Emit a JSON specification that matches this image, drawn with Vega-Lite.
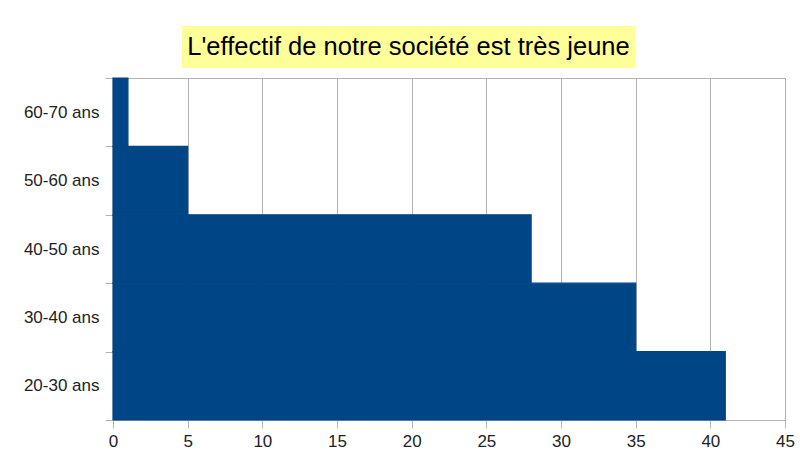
{
  "$schema": "https://vega.github.io/schema/vega-lite/v6.json",
  "padding": {"left": 22, "top": 26, "right": 5, "bottom": 0},
  "background": "white",
  "config": {"view": {"stroke": null}, "font": "Liberation Sans"},
  "spacing": 0,
  "vconcat": [
    {
      "spacing": 10,
      "hconcat": [
        {
          "width": 59,
          "height": 42,
          "data": {"values": []},
          "mark": {"type": "text"},
          "encoding": {}
        },
        {
          "width": 453,
          "height": 42,
          "view": {"fill": "#ffff99", "stroke": null},
          "data": {"values": [{"t": "L'effectif de notre société est très jeune"}]},
          "mark": {"type": "text", "fontSize": 25.5, "color": "#000000", "font": "Liberation Sans", "baseline": "middle", "align": "center"},
          "encoding": {"text": {"field": "t", "type": "nominal"}}
        }
      ]
    },
    {
      "width": 672,
      "height": 342,
      "view": {"stroke": "#b3b3b3"},
      "data": {"values": [
        {"age": "20-30 ans", "n": 41},
        {"age": "30-40 ans", "n": 35},
        {"age": "40-50 ans", "n": 28},
        {"age": "50-60 ans", "n": 5},
        {"age": "60-70 ans", "n": 1}
      ]},
      "mark": {"type": "bar", "color": "#004586", "stroke": "#004586", "strokeWidth": 1.2},
      "encoding": {
        "y": {
          "field": "age", "type": "nominal",
          "sort": ["60-70 ans", "50-60 ans", "40-50 ans", "30-40 ans", "20-30 ans"],
          "scale": {"paddingInner": 0, "paddingOuter": 0},
          "axis": {"title": null, "domain": false, "grid": false, "tickBand": "extent", "tickSize": 8, "tickColor": "#b3b3b3", "labelPadding": 6, "labelFontSize": 17, "labelColor": "#222222", "minExtent": 89, "maxExtent": 89}
        },
        "x": {
          "field": "n", "type": "quantitative",
          "scale": {"domain": [0, 45], "nice": false},
          "axis": {"title": null, "values": [0, 5, 10, 15, 20, 25, 30, 35, 40, 45], "grid": true, "gridColor": "#b3b3b3", "domainColor": "#b3b3b3", "tickColor": "#b3b3b3", "tickSize": 8, "labelPadding": 5, "labelFontSize": 17, "labelColor": "#222222", "labelFlush": false}
        }
      }
    }
  ]
}
